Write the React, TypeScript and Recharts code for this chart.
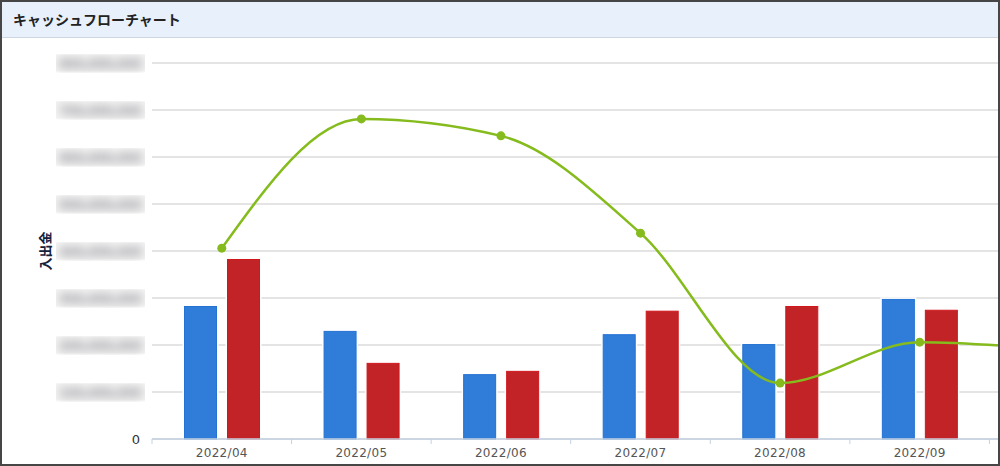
import React from 'react';
import { ComposedChart, Bar, Line, XAxis, YAxis, CartesianGrid } from 'recharts';

// months shown (2022/10 is mostly cut off on the right edge)
const months = ['2022/04', '2022/05', '2022/06', '2022/07', '2022/08', '2022/09', '2022/10'];
// in 100万円 units
const income = [283, 230, 138, 223, 202, 298, null];
const expense = [383, 162, 145, 273, 283, 275, null];
const balance = [406, 681, 645, 438, 119, 206, 189];
const yTicks = [0, 100, 200, 300, 400, 500, 600, 700, 800];

const chartData = months.map((m, i) => ({
  month: m,
  入金: income[i],
  出金: expense[i],
  残高: balance[i],
}));

const formatYen = (v: number) => (v * 1000000).toLocaleString('en-US');

// y ticks: the reference blurs everything but zero
const YTick = ({ x, y, payload }: any) => {
  if (payload.value === 0) {
    return (
      <text x={x - 4} y={y} dy={5} textAnchor="end" fill="#333" fontSize={13} fontFamily="DejaVu Sans">
        0
      </text>
    );
  }
  return (
    <g>
      <rect x={x - 88} y={y - 8.5} width={89} height={17} fill="#f4f4f4" />
      <text
        x={x - 2}
        y={y}
        dy={5}
        textAnchor="end"
        fill="#b4b4b8"
        stroke="#b4b4b8"
        strokeWidth={2}
        fontSize={13}
        fontFamily="DejaVu Sans"
        filter="url(#blurTick)"
      >
        {formatYen(payload.value)}
      </text>
    </g>
  );
};

// x ticks: label in the middle, tick marks on category boundaries
const XTick = ({ x, y, payload, index, visibleTicksCount }: any) => {
  const half = payload.offset ?? 0;
  const last = index === (visibleTicksCount ?? 0) - 1;
  return (
    <g>
      <line x1={x - half} x2={x - half} y1={y - 8} y2={y - 3} stroke="#c3d2e2" />
      {last && <line x1={x + half} x2={x + half} y1={y - 8} y2={y - 3} stroke="#c3d2e2" />}
      {x - 30 < 1000 && (
        <text x={x} y={y} dy={10} textAnchor="middle" fill="#555" fontSize={12} fontFamily="DejaVu Sans" letterSpacing={0.3}>
          {payload.value}
        </text>
      )}
    </g>
  );
};

const makeBar = (fill: string, edge: string) => (props: any) => {
  const { x, y, width, height } = props;
  if (height == null || height <= 0) return null;
  return (
    <g>
      <rect x={x - 1.5} y={y - 1.5} width={width + 3} height={height + 1.5} fill="#fff" />
      <rect x={x + 0.5} y={y + 0.5} width={width - 1} height={height - 0.5} fill={fill} stroke={edge} strokeWidth={1} />
    </g>
  );
};

const YLabel = () => (
  <text
    x={50}
    y={213}
    transform="rotate(-90 50 213)"
    textAnchor="middle"
    fill="#14213d"
    fontSize={13}
    fontWeight="bold"
    fontFamily="Noto Sans CJK JP"
  >
    入出金
  </text>
);

export default function App() {
  return (
    <div
      style={{
        position: 'absolute',
        left: 0,
        top: 0,
        width: 1000,
        height: 466,
        overflow: 'hidden',
        background: '#fff',
      }}
    >
      <div
        style={{
          position: 'absolute',
          left: 0,
          top: 0,
          width: 1000,
          height: 37,
          background: '#e7f0fb',
          borderBottom: '1px solid #cdd6e0',
        }}
      >
        <div
          style={{
            position: 'absolute',
            left: 13,
            top: 9,
            fontFamily: '"Noto Sans CJK JP"',
            fontSize: 14,
            fontWeight: 'bold',
            color: '#222',
            lineHeight: '20px',
          }}
        >
          キャッシュフローチャート
        </div>
      </div>

      <div style={{ position: 'absolute', left: 0, top: 38 }}>
        <ComposedChart
          width={1139}
          height={428}
          data={chartData}
          margin={{ top: 25, right: 10, bottom: 2, left: 0 }}
          barSize={33}
          barGap={10}
        >
          <defs>
            <filter id="blurTick" x="-0.03" y="-0.08" width="1.06" height="1.16">
              <feGaussianBlur stdDeviation="5" />
            </filter>
          </defs>
          <CartesianGrid vertical={false} stroke="#c9c9c9" strokeWidth={1.2} />
          <XAxis
            dataKey="month"
            height={25}
            axisLine={{ stroke: '#c3d2e2', strokeWidth: 1.5 }}
            tickLine={false}
            interval={0}
            tick={<XTick />}
          />
          <YAxis
            width={152}
            domain={[0, 800]}
            ticks={yTicks}
            axisLine={false}
            tickLine={false}
            tick={<YTick />}
            label={<YLabel />}
          />
          <Bar dataKey="入金" fill="#2f7dd8" shape={makeBar('#2f7dd8', '#2472d3')} isAnimationActive={false} />
          <Bar dataKey="出金" fill="#c22327" shape={makeBar('#c22327', '#d0181c')} isAnimationActive={false} />
          <Line
            type="monotone"
            dataKey="残高"
            stroke="#85bb1c"
            strokeWidth={2.5}
            dot={{ r: 4.5, fill: '#85bb1c', stroke: 'none' }}
            activeDot={false}
            isAnimationActive={false}
          />
        </ComposedChart>
      </div>

      <div
        style={{
          position: 'absolute',
          left: 0,
          top: 0,
          width: 1000,
          height: 466,
          boxSizing: 'border-box',
          border: '2px solid #464646',
          pointerEvents: 'none',
        }}
      />
    </div>
  );
}
